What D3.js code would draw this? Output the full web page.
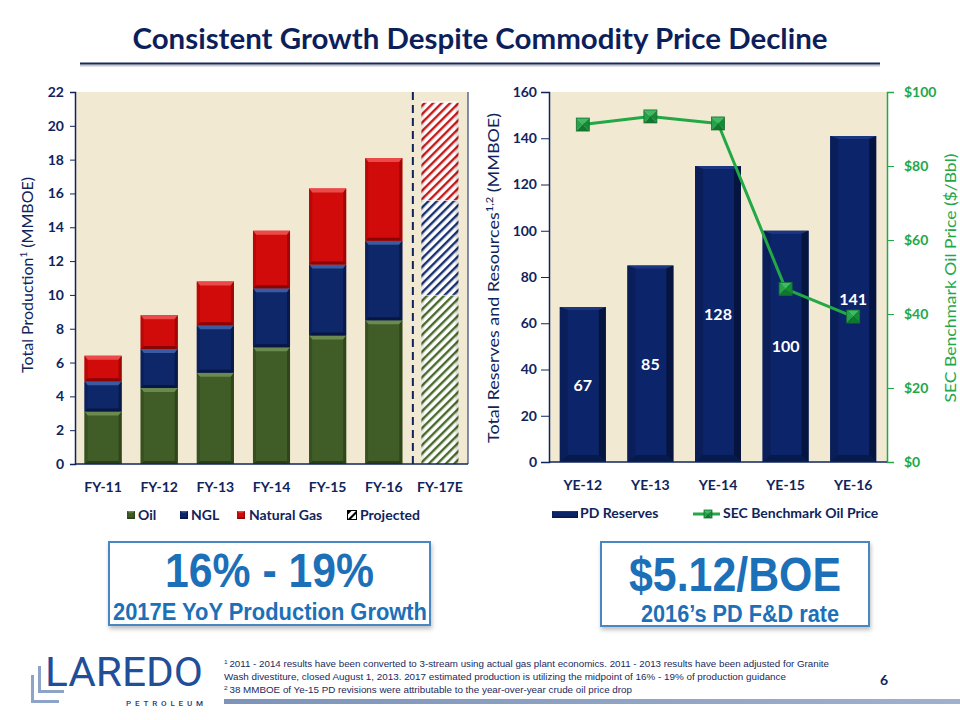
<!DOCTYPE html>
<html>
<head>
<meta charset="utf-8">
<script src="https://cdn.jsdelivr.net/npm/d3@7"></script>
<style>
  html, body { margin: 0; padding: 0; background: #ffffff; }
  svg { display: block; }
</style>
</head>
<body>
<svg id="chart" width="960" height="720"></svg>
<script>
// ---------------- DATA ----------------
const prodYears = ["FY-11", "FY-12", "FY-13", "FY-14", "FY-15", "FY-16", "FY-17E"];
const oilProd = [3.1, 4.5, 5.4, 6.9, 7.6, 8.5, 10.0];
const nglProd = [1.8, 2.3, 2.8, 3.5, 4.2, 4.7, 5.6];
const gasProd = [1.5, 2.0, 2.6, 3.4, 4.5, 4.9, 5.8];
const projectedYears = ["FY-17E"];
const prodTicks = [0, 2, 4, 6, 8, 10, 12, 14, 16, 18, 20, 22];
const prodLegend = ["Oil", "NGL", "Natural Gas", "Projected"];

const reserveYears = ["YE-12", "YE-13", "YE-14", "YE-15", "YE-16"];
const pdReserves = [67, 85, 128, 100, 141];
const secOilPrice = [91.2, 93.4, 91.5, 46.8, 39.3];
const reserveTicks = [0, 20, 40, 60, 80, 100, 120, 140, 160];
const priceTicks = [0, 20, 40, 60, 80, 100];
const reserveLegend = ["PD Reserves", "SEC Benchmark Oil Price"];

const footnotes = [
  "2011 - 2014 results have been converted to 3-stream using actual gas plant economics. 2011 - 2013 results have been adjusted for Granite",
  "Wash divestiture, closed August 1, 2013. 2017 estimated production is utilizing the midpoint of 16% - 19% of production guidance",
  "38 MMBOE of Ye-15 PD revisions were attributable to the year-over-year crude oil price drop"
];

// ---------------- STYLE ----------------
const NAVY = "#10245c";
const GREEN_TXT = "#22a84a";
const BG = "#f2e9d3";
const FONT = "Lato, 'Open Sans', sans-serif";
const NARROW = "'Liberation Sans Narrow', 'Arial Narrow', 'Liberation Sans', Arial, sans-serif";

const segStyles = {
  oil: { base: "#405d27", top: "#6b8a4f", left: "#36501f", right: "#2e461a", bottom: "#2a3f17", hatch: "#4a6a2c" },
  ngl: { base: "#0e2769", top: "#3a5aa2", left: "#0b205a", right: "#08194a", bottom: "#071642", hatch: "#1a3272" },
  gas: { base: "#d10a0a", top: "#ec4a4a", left: "#b80808", right: "#a00606", bottom: "#8a0404", hatch: "#c41a1a" }
};

const svg = d3.select("#chart");
const defs = svg.append("defs");

// hatch patterns for projected
Object.entries(segStyles).forEach(([k, s]) => {
  const p = defs.append("pattern")
    .attr("id", "hatch-" + k)
    .attr("patternUnits", "userSpaceOnUse")
    .attr("width", 6).attr("height", 6)
    .attr("patternTransform", "rotate(45)");
  p.append("rect").attr("width", 6).attr("height", 6).attr("fill", "#ffffff");
  p.append("rect").attr("x", 0).attr("width", 2.4).attr("height", 6).attr("fill", s.hatch);
});

// shadow filter for callout boxes
const f = defs.append("filter").attr("id", "shadow").attr("x", "-10%").attr("y", "-10%").attr("width", "120%").attr("height", "130%");
f.append("feDropShadow").attr("dx", 1).attr("dy", 3).attr("stdDeviation", 2).attr("flood-color", "#000").attr("flood-opacity", 0.25);

function bevel(g, x0, y0, x1, y1, bl, bt, br, bb, c) {
  const poly = (pts, fill) => g.append("polygon").attr("points", pts.map(p => p.join(",")).join(" ")).attr("fill", fill);
  poly([[x0, y0], [x1, y0], [x1, y1], [x0, y1]], c.base);
  poly([[x0, y0], [x1, y0], [x1 - br, y0 + bt], [x0 + bl, y0 + bt]], c.top);
  poly([[x0, y0], [x0 + bl, y0 + bt], [x0 + bl, y1 - bb], [x0, y1]], c.left);
  poly([[x1, y0], [x1, y1], [x1 - br, y1 - bb], [x1 - br, y0 + bt]], c.right);
  poly([[x0, y1], [x0 + bl, y1 - bb], [x1 - br, y1 - bb], [x1, y1]], c.bottom);
}

// ---------------- TITLE ----------------
svg.append("text").attr("x", 480).attr("y", 49).attr("text-anchor", "middle")
  .attr("font-family", FONT).attr("font-weight", 700).attr("font-size", 28)
  .attr("fill", "#0d1f5b").attr("textLength", 695).attr("lengthAdjust", "spacingAndGlyphs")
  .text("Consistent Growth Despite Commodity Price Decline");
svg.append("line").attr("x1", 80).attr("x2", 880).attr("y1", 65.5).attr("y2", 65.5)
  .attr("stroke", "#c8c8c8").attr("stroke-width", 2);
svg.append("line").attr("x1", 80).attr("x2", 880).attr("y1", 63.5).attr("y2", 63.5)
  .attr("stroke", "#1a2a5c").attr("stroke-width", 2);

// ---------------- LEFT CHART ----------------
const L = { x0: 75, x1: 468, y0: 92, y1: 464 };
const xProd = d3.scaleBand().domain(prodYears).range([L.x0, L.x1]).paddingInner(0.34).paddingOuter(0.17);
const yProd = d3.scaleLinear().domain([0, 22]).range([L.y1, L.y0]);

svg.append("rect").attr("x", L.x0).attr("y", L.y0).attr("width", L.x1 - L.x0).attr("height", L.y1 - L.y0).attr("fill", BG);

const prodRows = prodYears.map((y, i) => ({ year: y, oil: oilProd[i], ngl: nglProd[i], gas: gasProd[i] }));
const stack = d3.stack().keys(["oil", "ngl", "gas"])(prodRows);

const barsL = svg.append("g");
stack.forEach(layer => {
  const key = layer.key;
  layer.forEach((d, i) => {
    const yr = prodYears[i];
    const x0 = xProd(yr), x1 = x0 + xProd.bandwidth();
    const yt = yProd(d[1]), yb = yProd(d[0]);
    const g = barsL.append("g");
    if (projectedYears.includes(yr)) {
      g.append("rect").attr("x", x0).attr("y", yt).attr("width", x1 - x0).attr("height", yb - yt)
        .attr("fill", "url(#hatch-" + key + ")");
      g.append("rect").attr("x", x0).attr("y", yt).attr("width", 3).attr("height", yb - yt).attr("fill", "#000").attr("opacity", 0.08);
      g.append("rect").attr("x", x1 - 3).attr("y", yt).attr("width", 3).attr("height", yb - yt).attr("fill", "#000").attr("opacity", 0.12);
      g.append("line").attr("x1", x0).attr("x2", x1).attr("y1", yt).attr("y2", yt).attr("stroke", "#ffffff").attr("stroke-width", 1.2);
    } else {
      bevel(g, x0, yt, x1, yb, 3, 4, 3, 3, segStyles[key]);
    }
  });
});

// dashed separator
const sepX = (xProd("FY-16") + xProd.bandwidth() + xProd("FY-17E")) / 2 + 1;
svg.append("line").attr("x1", sepX).attr("x2", sepX).attr("y1", L.y0).attr("y2", L.y1)
  .attr("stroke", NAVY).attr("stroke-width", 2).attr("stroke-dasharray", "8,5");

// axes
const axL = svg.append("g").attr("transform", `translate(${L.x0},0)`)
  .call(d3.axisLeft(yProd).tickValues(prodTicks).tickSize(5).tickPadding(6));
axL.select(".domain").attr("stroke", NAVY).attr("stroke-width", 1.5);
axL.selectAll(".tick line").attr("stroke", NAVY);
axL.selectAll("text").attr("font-family", FONT).attr("font-weight", 700).attr("font-size", 14).attr("fill", NAVY);
svg.append("line").attr("x1", L.x0).attr("x2", L.x1).attr("y1", L.y1).attr("y2", L.y1).attr("stroke", NAVY).attr("stroke-width", 1.5);
svg.append("line").attr("x1", L.x1).attr("x2", L.x1).attr("y1", L.y0).attr("y2", L.y1).attr("stroke", NAVY).attr("stroke-width", 1);

svg.append("g").selectAll("text").data(prodYears).join("text")
  .attr("x", d => xProd(d) + xProd.bandwidth() / 2).attr("y", 492)
  .attr("text-anchor", "middle").attr("font-family", FONT).attr("font-weight", 700)
  .attr("font-size", 14).attr("fill", NAVY).text(d => d);

const tL = svg.append("text").attr("transform", "translate(33,275) rotate(-90)")
  .attr("text-anchor", "middle").attr("font-family", FONT).attr("font-size", 16).attr("fill", NAVY);
tL.append("tspan").text("Total Production");
tL.append("tspan").attr("font-size", 10).attr("dy", -6).text("1");
tL.append("tspan").attr("dy", 6).text(" (MMBOE)");

// left legend
const legL = svg.append("g").attr("font-family", FONT).attr("font-weight", 700).attr("font-size", 14).attr("fill", NAVY);
const legPos = [{ sx: 127, tx: 138 }, { sx: 180, tx: 191 }, { sx: 237, tx: 249 }, { sx: 347, tx: 360 }];
const legKeys = ["oil", "ngl", "gas"];
prodLegend.forEach((name, i) => {
  const p = legPos[i];
  const g = legL.append("g");
  if (i < 3) {
    bevel(g, p.sx, 511, p.sx + 8, 519, 1.5, 1.5, 1.5, 1.5, segStyles[legKeys[i]]);
  } else {
    g.append("rect").attr("x", p.sx + 0.5).attr("y", 510.5).attr("width", 9).attr("height", 9).attr("fill", "#fff").attr("stroke", "#000").attr("stroke-width", 1);
    g.append("polygon").attr("points", `${p.sx + 0.5},${519.5} ${p.sx + 9.5},${510.5} ${p.sx + 9.5},${513.5} ${p.sx + 3.5},${519.5}`).attr("fill", "#000");
    g.append("polygon").attr("points", `${p.sx + 0.5},${515} ${p.sx + 5},${510.5} ${p.sx + 0.5},${510.5}`).attr("fill", "#000");
  }
  legL.append("text").attr("x", p.tx).attr("y", 520).text(name);
});

// ---------------- RIGHT CHART ----------------
const R = { x0: 549, x1: 887, y0: 92, y1: 462 };
const xRes = d3.scaleBand().domain(reserveYears).range([R.x0, R.x1]).paddingInner(0.32).paddingOuter(0.16);
const yRes = d3.scaleLinear().domain([0, 160]).range([R.y1, R.y0]);
const yPrice = d3.scaleLinear().domain([0, 100]).range([R.y1, R.y0]);

svg.append("rect").attr("x", R.x0).attr("y", R.y0).attr("width", R.x1 - R.x0).attr("height", R.y1 - R.y0).attr("fill", BG);

const resStyle = { base: "#0c256a", top: "#1c3782", left: "#0a1f5a", right: "#061540", bottom: "#071a4c" };
const barsR = svg.append("g");
reserveYears.forEach((yr, i) => {
  const x0 = xRes(yr), x1 = x0 + xRes.bandwidth();
  const yt = yRes(pdReserves[i]), yb = yRes(0);
  bevel(barsR.append("g"), x0, yt, x1, yb, 8, 3, 7, 7, resStyle);
});
svg.append("g").selectAll("text").data(reserveYears).join("text")
  .attr("x", d => xRes(d) + xRes.bandwidth() / 2)
  .attr("y", (d, i) => yRes(pdReserves[i] / 2) + 6)
  .attr("text-anchor", "middle").attr("font-family", FONT).attr("font-weight", 700)
  .attr("font-size", 16).attr("fill", "#ffffff").text((d, i) => pdReserves[i]);

// price line
const lineGen = d3.line().x((d, i) => xRes(reserveYears[i]) + xRes.bandwidth() / 2).y(d => yPrice(d));
svg.append("path").datum(secOilPrice).attr("d", lineGen).attr("fill", "none")
  .attr("stroke", "#22a845").attr("stroke-width", 3).attr("stroke-linejoin", "round");

function marker(g, cx, cy, s) {
  const h = s / 2;
  const tri = (pts, fill) => g.append("polygon").attr("points", pts.map(p => p.join(",")).join(" ")).attr("fill", fill);
  tri([[cx - h, cy - h], [cx + h, cy - h], [cx, cy]], "#3dbb62");
  tri([[cx - h, cy - h], [cx - h, cy + h], [cx, cy]], "#27a24b");
  tri([[cx + h, cy - h], [cx + h, cy + h], [cx, cy]], "#168a36");
  tri([[cx - h, cy + h], [cx + h, cy + h], [cx, cy]], "#10782d");
  g.append("rect").attr("x", cx - h).attr("y", cy - h).attr("width", s).attr("height", s)
    .attr("fill", "none").attr("stroke", "#137030").attr("stroke-width", 0.8);
}
const mk = svg.append("g");
secOilPrice.forEach((v, i) => marker(mk, xRes(reserveYears[i]) + xRes.bandwidth() / 2, yPrice(v), 13));

// axes
const axR = svg.append("g").attr("transform", `translate(${R.x0},0)`)
  .call(d3.axisLeft(yRes).tickValues(reserveTicks).tickSize(8).tickPadding(4));
axR.select(".domain").attr("stroke", NAVY).attr("stroke-width", 1.5);
axR.selectAll(".tick line").attr("stroke", NAVY);
axR.selectAll("text").attr("font-family", FONT).attr("font-weight", 700).attr("font-size", 14).attr("fill", NAVY);

const axP = svg.append("g").attr("transform", `translate(${R.x1},0)`)
  .call(d3.axisRight(yPrice).tickValues(priceTicks).tickSize(7).tickPadding(10).tickFormat(d => "$" + d));
axP.select(".domain").attr("stroke", "#22a845").attr("stroke-width", 1.5);
axP.selectAll(".tick line").attr("stroke", "#22a845");
axP.selectAll("text").attr("font-family", FONT).attr("font-weight", 700).attr("font-size", 14).attr("fill", GREEN_TXT);

svg.append("line").attr("x1", R.x0).attr("x2", R.x1).attr("y1", R.y1).attr("y2", R.y1).attr("stroke", NAVY).attr("stroke-width", 1.5);

svg.append("g").selectAll("text").data(reserveYears).join("text")
  .attr("x", d => xRes(d) + xRes.bandwidth() / 2).attr("y", 490)
  .attr("text-anchor", "middle").attr("font-family", FONT).attr("font-weight", 700)
  .attr("font-size", 14).attr("fill", NAVY).text(d => d);

const tR = svg.append("text").attr("transform", "translate(499,278) rotate(-90)")
  .attr("text-anchor", "middle").attr("font-family", FONT).attr("font-size", 16).attr("fill", NAVY)
  .attr("textLength", 330).attr("lengthAdjust", "spacingAndGlyphs");
tR.append("tspan").text("Total Reserves and Resources");
tR.append("tspan").attr("font-size", 10).attr("dy", -6).text("1,2");
tR.append("tspan").attr("dy", 6).text(" (MMBOE)");

svg.append("text").attr("transform", "translate(956,278) rotate(-90)")
  .attr("text-anchor", "middle").attr("font-family", FONT).attr("font-size", 15).attr("fill", GREEN_TXT)
  .attr("textLength", 249).attr("lengthAdjust", "spacingAndGlyphs")
  .text("SEC Benchmark Oil Price ($/Bbl)");

// right legend
const legR = svg.append("g").attr("font-family", FONT).attr("font-weight", 700).attr("font-size", 14).attr("fill", NAVY);
bevel(legR.append("g"), 552, 511, 578, 518, 1, 1, 1, 1.5, resStyle);
legR.append("text").attr("x", 580).attr("y", 518).text(reserveLegend[0]);
legR.append("line").attr("x1", 693).attr("x2", 720).attr("y1", 514).attr("y2", 514).attr("stroke", "#22a845").attr("stroke-width", 3);
marker(legR.append("g"), 708, 514, 8);
legR.append("text").attr("x", 723).attr("y", 518).text(reserveLegend[1]);

// ---------------- CALLOUTS ----------------
function callout(x, y, w, h, big, bigW, bigY, small, smallW, smallX, smallY, bigSize, smallSize) {
  svg.append("rect").attr("x", x).attr("y", y).attr("width", w).attr("height", h)
    .attr("fill", "#fff").attr("stroke", "#4a86c4").attr("stroke-width", 2).attr("filter", "url(#shadow)");
  svg.append("text").attr("x", x + w / 2).attr("y", bigY).attr("text-anchor", "middle")
    .attr("font-family", NARROW).attr("font-weight", 700).attr("font-size", bigSize).attr("fill", "#1c70b8")
    .attr("textLength", bigW).attr("lengthAdjust", "spacingAndGlyphs").text(big);
  svg.append("text").attr("x", smallX).attr("y", smallY).attr("text-anchor", "middle")
    .attr("font-family", NARROW).attr("font-weight", 700).attr("font-size", smallSize).attr("fill", "#1c70b8")
    .attr("textLength", smallW).attr("lengthAdjust", "spacingAndGlyphs").text(small);
}
callout(109, 542, 321, 83, "16% - 19%", 209, 587, "2017E YoY Production Growth", 314, 270, 619.5, 49, 23.5);
callout(601, 542, 268, 84, "$5.12/BOE", 212, 591, "2016\u2019s PD F&D rate", 198, 740, 622, 48, 23);

// ---------------- FOOTER ----------------
const logo = svg.append("g");
logo.append("rect").attr("x", 31).attr("y", 675).attr("width", 3).attr("height", 28).attr("fill", "#8ea3c8");
logo.append("rect").attr("x", 31).attr("y", 700).attr("width", 28).attr("height", 3).attr("fill", "#8ea3c8");
logo.append("rect").attr("x", 38).attr("y", 666).attr("width", 3).attr("height", 27).attr("fill", "#8ea3c8");
logo.append("rect").attr("x", 38).attr("y", 690).attr("width", 26).attr("height", 3).attr("fill", "#8ea3c8");
logo.append("text").attr("x", 45).attr("y", 686).attr("font-family", "Roboto, 'Open Sans', sans-serif")
  .attr("font-weight", 400).attr("font-size", 41).attr("fill", "#1f4f98")
  .attr("textLength", 158).attr("lengthAdjust", "spacingAndGlyphs").text("LAREDO");
logo.append("text").attr("x", 126).attr("y", 706).attr("font-family", "Roboto, 'Open Sans', sans-serif")
  .attr("font-weight", 500).attr("font-size", 8).attr("fill", "#1f3f78")
  .attr("textLength", 77).attr("lengthAdjust", "spacing").text("PETROLEUM");

const fnWidths = [605, 562, 408];
const fnY = [667, 680, 693];
footnotes.forEach((t, i) => {
  const tx = svg.append("text").attr("x", 224).attr("y", fnY[i]).attr("font-family", NARROW)
    .attr("font-size", 9).attr("fill", "#1a2a5c")
    .attr("textLength", fnWidths[i]).attr("lengthAdjust", "spacingAndGlyphs");
  if (i === 0) tx.append("tspan").attr("font-size", 6).attr("dy", -3).text("1 ");
  if (i === 2) tx.append("tspan").attr("font-size", 6).attr("dy", -3).text("2 ");
  tx.append("tspan").attr("dy", (i === 0 || i === 2) ? 3 : 0).text(t);
});
svg.append("text").attr("x", 880).attr("y", 685).attr("font-family", FONT).attr("font-weight", 700)
  .attr("font-size", 14).attr("fill", NAVY).text("6");

const gbar = defs.append("linearGradient").attr("id", "footbar").attr("x1", 0).attr("x2", 1);
gbar.append("stop").attr("offset", 0).attr("stop-color", "#7d93b9");
gbar.append("stop").attr("offset", 1).attr("stop-color", "#9fb1cf");
svg.append("rect").attr("x", 224).attr("y", 699).attr("width", 736).attr("height", 5).attr("fill", "url(#footbar)");
</script>
</body>
</html>
